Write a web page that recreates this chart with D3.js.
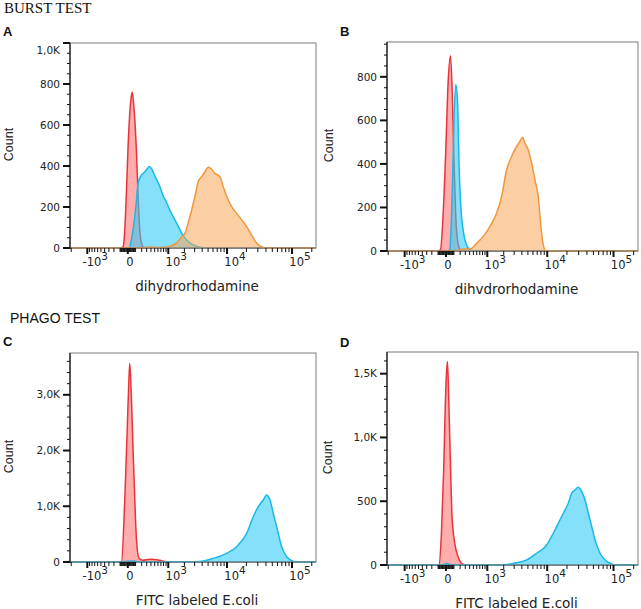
<!DOCTYPE html>
<html>
<head>
<meta charset="utf-8">
<script src="https://cdn.jsdelivr.net/npm/d3@7"></script>
<style>
  body { margin: 0; background: #fff; }
  svg text { font-family: "DejaVu Sans", sans-serif; fill: #222; }
</style>
</head>
<body>
<svg width="641" height="609"></svg>
<script>
// x axis (biexponential-ish, drawn with a symlog scale)
const xDomain = [-2100, 232000];
const xMajor = [-1000, 0, 1000, 10000, 100000];
const xMajorLabels = [["-10", "3"], ["0", ""], ["10", "3"], ["10", "4"], ["10", "5"]];

// y ticks per panel
const yTicksA = [0, 200, 400, 600, 800, 1000];
const yTicksB = [0, 200, 400, 600, 800];
const yTicksC = [0, 1000, 2000, 3000];
const yTicksD = [0, 500, 1000, 1500];

// histograms: [fluorescence, count]
const burstARed = [[-89,0],[-57,6],[-36,88],[-15,283],[3,494],[23,658],[42,740],[55,760],[68,720],[89,625],[114,463],[139,250],[167,88],[197,24],[241,2],[303,0]];
const burstABlue = [[23,0],[65,88],[104,200],[139,317],[197,356],[261,372],[310,385],[355,397],[422,385],[480,362],[555,335],[662,300],[783,255],[900,228],[1075,185],[1444,122],[1903,60],[2491,25],[3270,8],[4435,0]];
const burstAOrange = [[-2100,0],[167,0],[372,5],[662,3],[1075,8],[1444,25],[1731,50],[2040,72],[2491,153],[3030,250],[3440,323],[3917,348],[4435,372],[5017,394],[5693,384],[6432,364],[7725,348],[8711,299],[10438,234],[11800,202],[14125,169],[16893,137],[20190,104],[24112,63],[28787,23],[36384,2],[42900,0],[232000,0]];

const burstBRed = [[-100,0],[-67,5],[-34,158],[-2,465],[24,771],[54,897],[80,695],[103,388],[128,158],[155,51],[194,9],[244,0]];
const burstBBlue = [[30,0],[45,8],[80,311],[103,618],[128,764],[155,695],[182,388],[212,204],[256,97],[327,28],[405,8],[541,0]];
const burstBOrange = [[-2100,0],[113,0],[231,8],[357,10],[449,12],[593,35],[825,66],[1121,112],[1495,173],[1836,250],[2241,373],[2720,434],[3289,480],[3721,503],[4115,523],[4480,495],[5060,465],[5725,403],[6451,327],[7264,250],[7997,112],[8685,28],[9562,0],[232000,0]];

const phagoCRed = [[-104,0],[-79,5],[-36,1113],[-8,2310],[11,3207],[23,3567],[44,2908],[65,2010],[89,1113],[114,395],[155,66],[221,30],[372,48],[504,45],[662,30],[922,5],[1229,0]];
const phagoCBlue = [[-2100,0],[-104,0],[-10,15],[48,20],[134,5],[261,0],[1879,5],[3670,10],[6042,66],[9852,155],[14125,275],[20190,515],[25520,813],[30464,993],[36384,1113],[40992,1203],[46080,1113],[51776,874],[58368,634],[69536,275],[83008,95],[104672,12],[119232,0],[232000,0]];

const phagoDRed = [[-120,0],[-86,3],[-54,249],[-25,772],[-6,1295],[6,1505],[17,1596],[32,1295],[54,772],[74,379],[113,170],[165,65],[225,13],[291,0]];
const phagoDBlue = [[-2100,0],[-70,0],[9,10],[113,0],[1713,0],[2891,13],[4771,39],[6858,92],[9799,157],[12378,249],[14755,327],[17587,406],[20941,484],[23574,563],[26442,589],[29658,610],[33376,575],[37408,510],[41952,406],[47200,301],[52896,196],[62880,92],[74720,39],[88832,13],[105504,0],[232000,0]];

const palette = {
  red:    { stroke: "#e8333b", fill: "#ff5c5c", op: 0.5 },
  blue:   { stroke: "#1bb7e6", fill: "#2ccbf5", op: 0.58 },
  orange: { stroke: "#f0973c", fill: "#f8a55a", op: 0.55 }
};

const panels = [
  { letter: "A", lx: 3, ly: 36, l: 70, t: 43, r: 316, b: 248, yMax: 1000, yMajor: yTicksA, yMinor: 50,
    countX: 13, xTitle: "dihydrorhodamine",
    series: [[burstARed, "red"], [burstABlue, "blue"], [burstAOrange, "orange"]] },
  { letter: "B", lx: 340, ly: 36, l: 387, t: 42, r: 638, b: 251, yMax: 960, yMajor: yTicksB, yMinor: 50,
    countX: 333, xTitle: "dihvdrorhodamine",
    series: [[burstBRed, "red"], [burstBBlue, "blue"], [burstBOrange, "orange"]] },
  { letter: "C", lx: 3, ly: 346, l: 70, t: 353, r: 316, b: 562, yMax: 3750, yMajor: yTicksC, yMinor: 200,
    countX: 13, xTitle: "FITC labeled E.coli",
    series: [[phagoCRed, "red"], [phagoCBlue, "blue"]] },
  { letter: "D", lx: 340, ly: 347, l: 387, t: 352, r: 638, b: 565, yMax: 1670, yMajor: yTicksD, yMinor: 100,
    countX: 332, xTitle: "FITC labeled E.coli",
    series: [[phagoDRed, "red"], [phagoDBlue, "blue"]] }
];

const svg = d3.select("svg");

svg.append("text").attr("x", 4).attr("y", 13)
  .style("font-family", "'Liberation Serif', serif").style("font-size", "15px").style("fill", "#111")
  .text("BURST TEST");
svg.append("text").attr("x", 10).attr("y", 323)
  .style("font-family", "'Liberation Sans', sans-serif").style("font-size", "14px").style("fill", "#111")
  .text("PHAGO TEST");

function fmtY(v) {
  return v >= 1000 ? (v / 1000).toFixed(1).replace(".", ",") + "K" : String(v);
}

// minor x ticks: k * 10^n on both sides
const xMinor = [];
for (let n = 1; n <= 5; n++) {
  for (let k = 1; k <= 9; k++) {
    const v = k * Math.pow(10, n);
    [v, -v].forEach(w => {
      if (w > xDomain[0] && w < xDomain[1] && !xMajor.includes(w)) xMinor.push(w);
    });
  }
}

panels.forEach((p, i) => {
  const x = d3.scaleSymlog().constant(320).domain(xDomain).range([p.l, p.r]);
  const y = d3.scaleLinear().domain([0, p.yMax]).range([p.b, p.t]);
  const g = svg.append("g");

  g.append("clipPath").attr("id", "clip" + i)
    .append("rect").attr("x", p.l).attr("y", p.t).attr("width", p.r - p.l).attr("height", p.b - p.t + 1.5);

  // bottom axis line (under the histograms)
  g.append("line").attr("x1", p.l).attr("x2", p.r).attr("y1", p.b).attr("y2", p.b)
    .attr("stroke", "#111").attr("stroke-width", 1);

  const area = d3.area()
    .x(d => x(d[0])).y0(y(0)).y1(d => y(d[1]))
    .curve(d3.curveMonotoneX);
  const line = d3.line()
    .x(d => x(d[0])).y(d => y(d[1]))
    .curve(d3.curveMonotoneX);

  const plot = g.append("g").attr("clip-path", `url(#clip${i})`);
  p.series.forEach(([data, key]) => {
    const c = palette[key];
    plot.append("path").datum(data).attr("d", area)
      .attr("fill", c.fill).attr("fill-opacity", c.op);
    plot.append("path").datum(data).attr("d", line)
      .attr("fill", "none").attr("stroke", c.stroke).attr("stroke-width", 1.5);
  });

  // frame
  g.append("rect").attr("x", p.l).attr("y", p.t).attr("width", p.r - p.l).attr("height", p.b - p.t)
    .attr("fill", "none").attr("stroke", "#7d7d7d").attr("stroke-width", 1);
  g.append("line").attr("x1", p.l).attr("x2", p.l).attr("y1", p.t).attr("y2", p.b + 1)
    .attr("stroke", "#111").attr("stroke-width", 1.2);

  // y ticks
  const yMinorVals = d3.range(0, p.yMax + 0.001, p.yMinor).filter(v => !p.yMajor.includes(v));
  g.selectAll(".ymin").data(yMinorVals).join("line")
    .attr("x1", p.l - 3).attr("x2", p.l).attr("y1", d => y(d)).attr("y2", d => y(d))
    .attr("stroke", "#111").attr("stroke-width", 1);
  g.selectAll(".ymaj").data(p.yMajor).join("line")
    .attr("x1", p.l - 7).attr("x2", p.l).attr("y1", d => y(d)).attr("y2", d => y(d))
    .attr("stroke", "#111").attr("stroke-width", 2);
  g.selectAll(".ylab").data(p.yMajor).join("text")
    .attr("x", p.l - 10)
    .attr("y", d => y(d) - p.t < 5 ? y(d) + 7 : y(d))
    .attr("dy", "0.35em")
    .attr("text-anchor", "end")
    .style("font-size", "10.5px")
    .text(fmtY);

  // x ticks
  g.selectAll(".xmin").data(xMinor).join("line")
    .attr("x1", d => x(d)).attr("x2", d => x(d)).attr("y1", p.b).attr("y2", p.b + 4)
    .attr("stroke", "#111").attr("stroke-width", 1);
  g.selectAll(".xmaj").data(xMajor).join("line")
    .attr("x1", d => x(d)).attr("x2", d => x(d)).attr("y1", p.b).attr("y2", p.b + 6)
    .attr("stroke", "#111").attr("stroke-width", 2);
  const xl = g.selectAll(".xlab").data(xMajor).join("text")
    .attr("x", (d, j) => x(d) + (xMajorLabels[j][1] ? 8 : 2))
    .attr("y", p.b + 18)
    .attr("text-anchor", "middle")
    .style("font-size", "11.5px");
  xl.append("tspan").text((d, j) => xMajorLabels[j][0]);
  xl.append("tspan").attr("dy", -6).style("font-size", "10.5px").text((d, j) => xMajorLabels[j][1]);

  // titles
  g.append("text").attr("x", (p.l + p.r) / 2 + 4).attr("y", p.b + 42.5)
    .attr("text-anchor", "middle").style("font-size", "13.5px").text(p.xTitle);
  g.append("text")
    .attr("transform", `translate(${p.countX},${(p.t + p.b) / 2 - 1}) rotate(-90)`)
    .attr("text-anchor", "middle")
    .style("font-family", "'Liberation Sans', sans-serif").style("font-size", "12.5px")
    .text("Count");
  g.append("text").attr("x", p.lx).attr("y", p.ly)
    .style("font-family", "'Liberation Sans', sans-serif").style("font-weight", "bold").style("font-size", "13px")
    .style("fill", "#111")
    .text(p.letter);
});
</script>
</body>
</html>
